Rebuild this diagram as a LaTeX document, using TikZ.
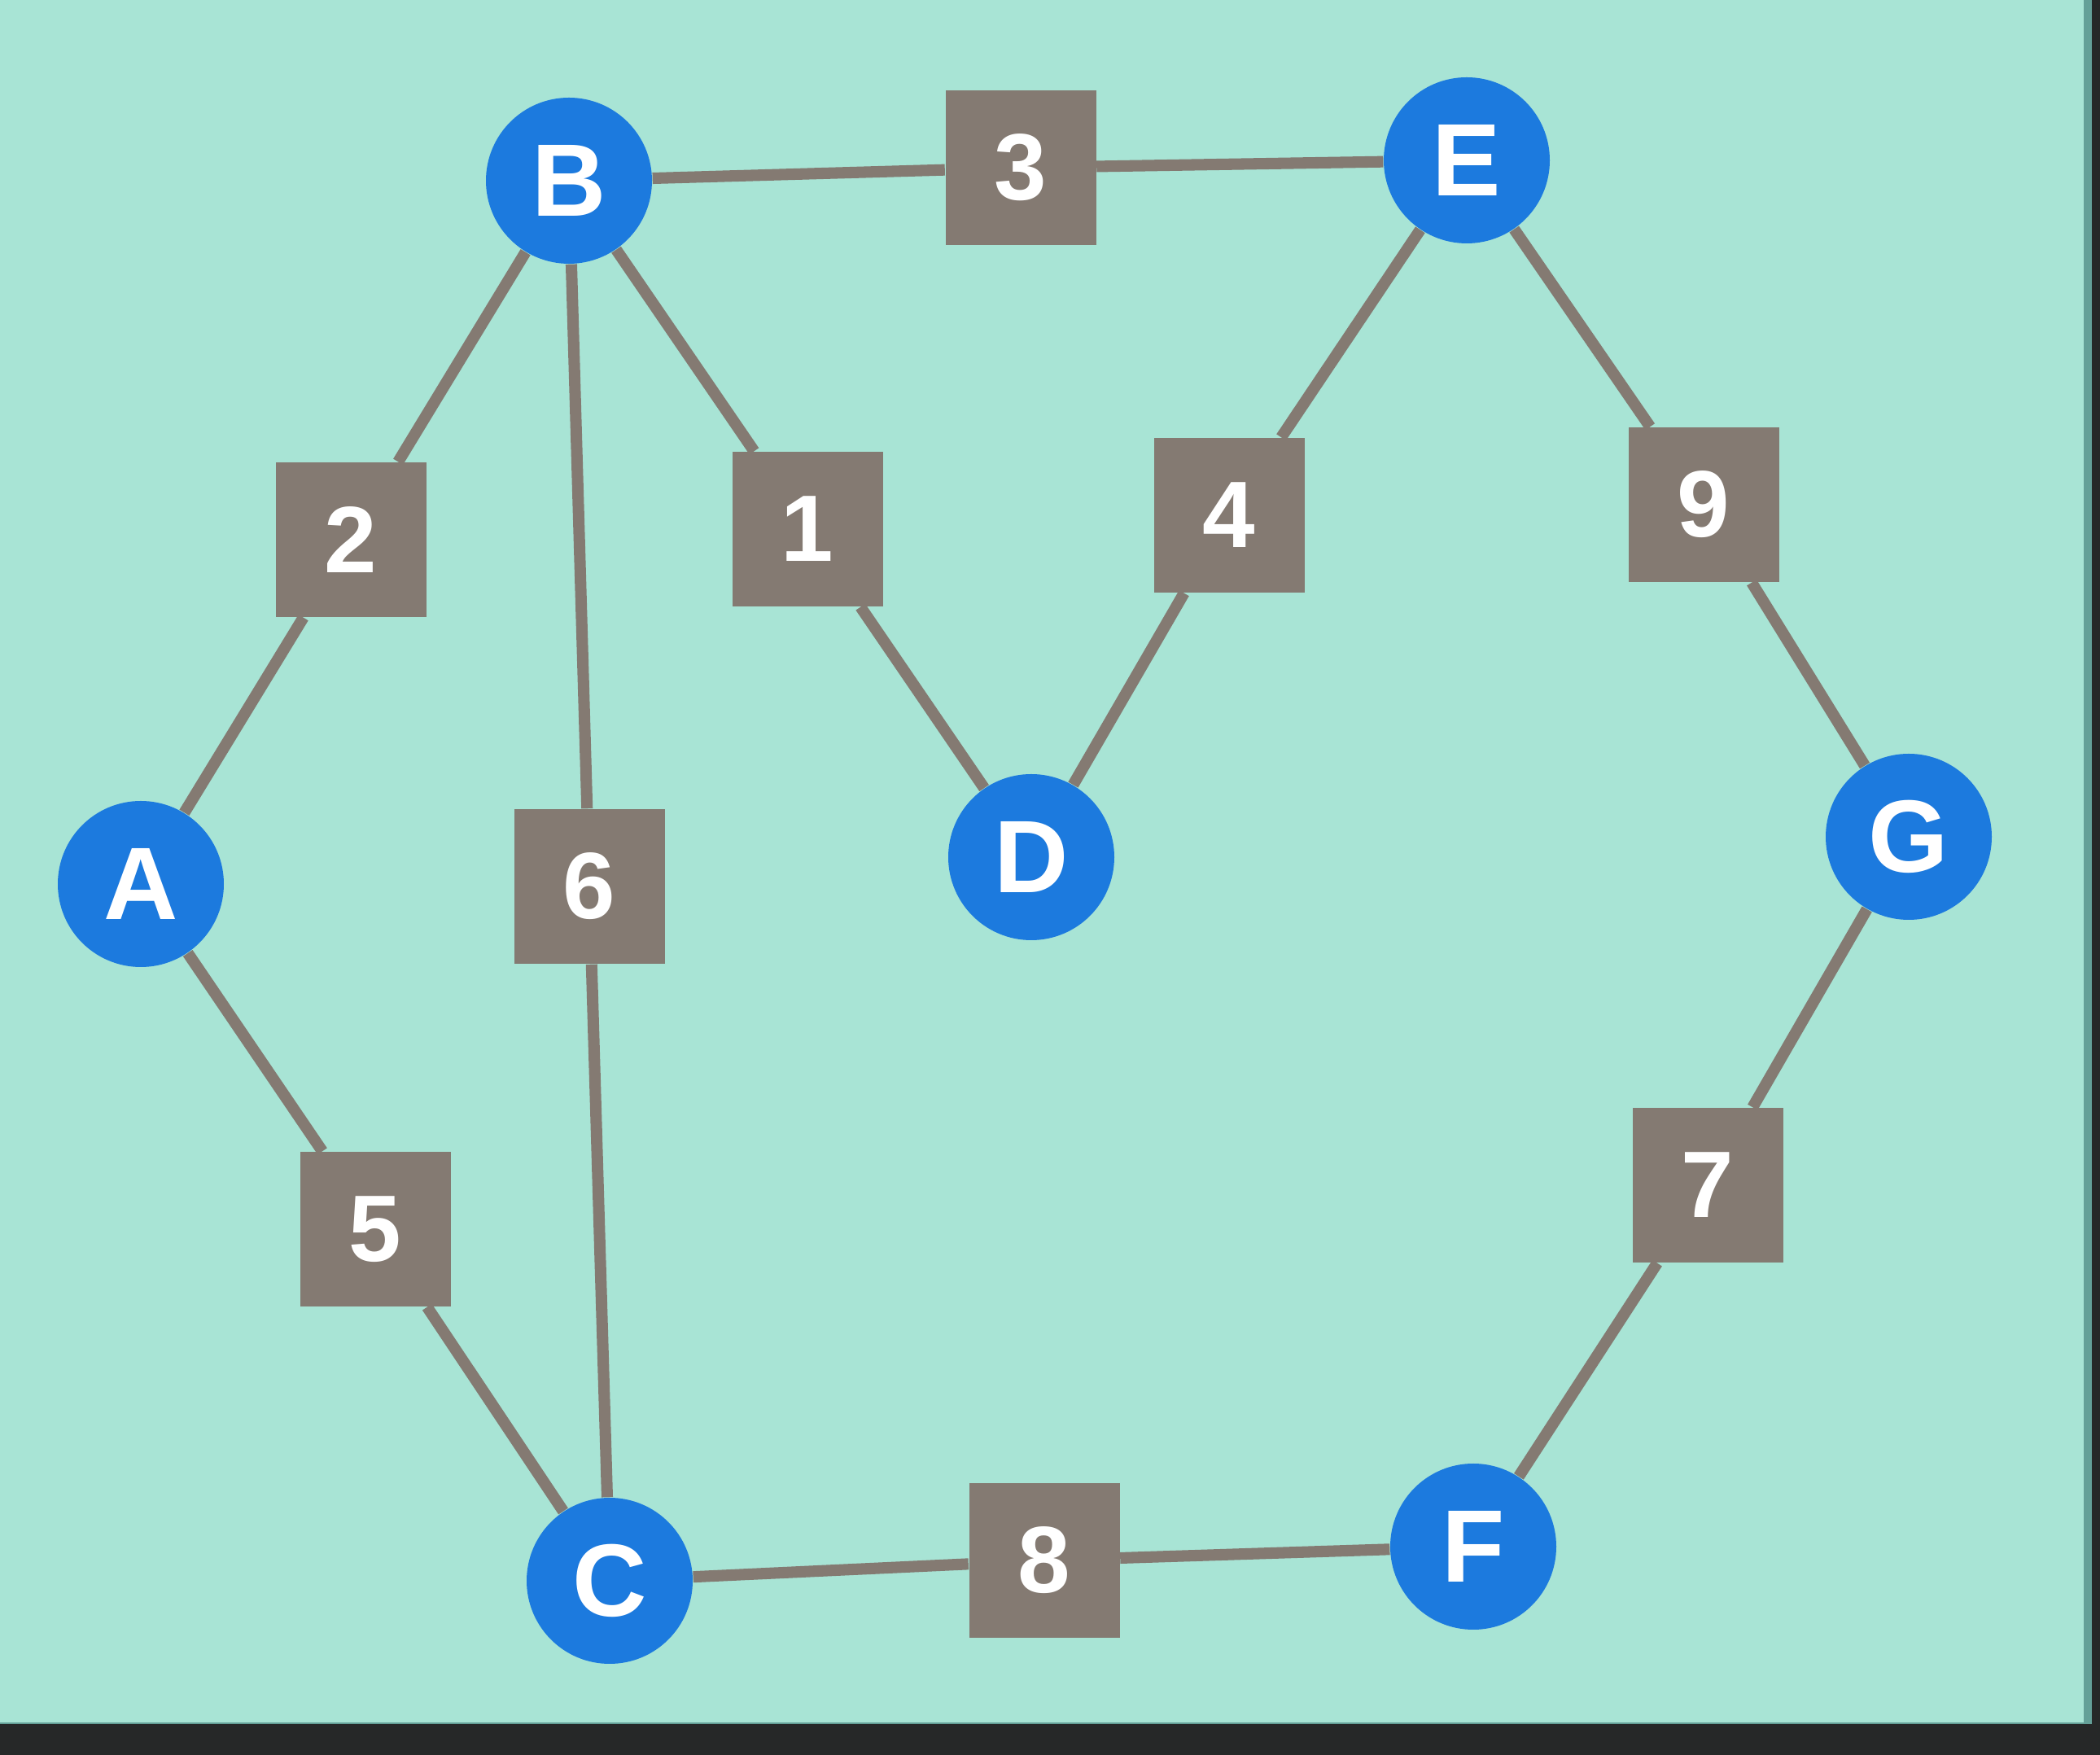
\documentclass[tikz,border=0pt]{standalone}
\usepackage{fontspec}
\setmainfont{Liberation Sans}
\usepackage{tikz}
\usetikzlibrary{calc}
\usetikzlibrary{positioning}
\definecolor{mint}{RGB}{168, 228, 213}
\definecolor{screenedge}{RGB}{38, 40, 40}
\definecolor{deepteal}{RGB}{100, 160, 152}
\definecolor{vertexblue}{RGB}{28, 122, 222}
\definecolor{weightgray}{RGB}{132, 122, 114}

\begin{document}
\begin{tikzpicture}[
    vertex/.style={circle, fill=vertexblue, minimum size=2.04cm, inner sep=0pt,
                   text=white, font=\fontsize{36}{36}\selectfont\bfseries},
    weight/.style={rectangle, fill=weightgray, minimum width=1.85cm, minimum height=1.9cm,
                   inner sep=0pt, text=white, font=\fontsize{33}{33}\selectfont\bfseries},
    link/.style={draw=weightgray, line width=4pt}
  ]
  \useasboundingbox (0,0) rectangle (25.80,21.56);
  \fill[screenedge]                                          (0.00, 0.00) rectangle (25.80,21.56);
  \fill[deepteal]                                            (0.00, 0.38) rectangle (25.70,21.56);
  \fill[mint]                                                (0.00, 0.40) rectangle (25.60,21.56);

  % vertices
  \node[vertex] (A) at ( 1.73,10.70) {A};
  \node[vertex] (B) at ( 6.99,19.34) {B};
  \node[vertex] (C) at ( 7.49, 2.14) {C};
  \node[vertex] (D) at (12.67,11.03) {D};
  \node[vertex] (E) at (18.02,19.59) {E};
  \node[vertex] (F) at (18.10, 2.56) {F};
  \node[vertex] (G) at (23.45,11.28) {G};

  % edge weights
  \node[weight] (w1) at ( 9.92,15.06) {1};
  \node[weight] (w2) at ( 4.31,14.93) {2};
  \node[weight] (w3) at (12.54,19.50) {3};
  \node[weight] (w4) at (15.10,15.23) {4};
  \node[weight] (w5) at ( 4.61, 6.46) {5};
  \node[weight] (w6) at ( 7.24,10.67) {6};
  \node[weight] (w7) at (20.98, 7.00) {7};
  \node[weight] (w8) at (12.83, 2.39) {8};
  \node[weight] (w9) at (20.93,15.36) {9};

  % edges
  \draw[link] (B) -- (w1) -- (D);
  \draw[link] (B) -- (w2) -- (A);
  \draw[link] (B) -- (w3) -- (E);
  \draw[link] (E) -- (w4) -- (D);
  \draw[link] (A) -- (w5) -- (C);
  \draw[link] (B) -- (w6) -- (C);
  \draw[link] (G) -- (w7) -- (F);
  \draw[link] (C) -- (w8) -- (F);
  \draw[link] (E) -- (w9) -- (G);
\end{tikzpicture}
\end{document}
